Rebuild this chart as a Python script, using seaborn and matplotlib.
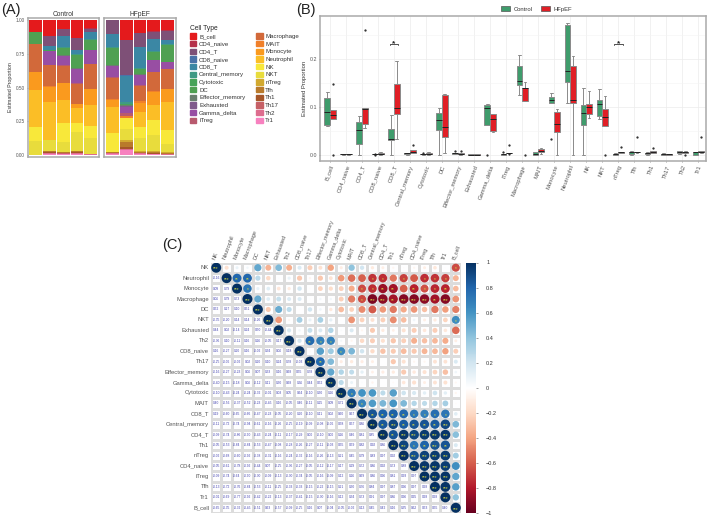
import numpy as np
import pandas as pd
import seaborn as sns
import matplotlib.pyplot as plt
from matplotlib.colors import LinearSegmentedColormap
from matplotlib.patches import Patch

# cell types, in legend order
cell_types = ['B_cell', 'CD4_naive', 'CD4_T', 'CD8_naive', 'CD8_T', 'Central_memory', 'Cytotoxic', 'DC',
              'Effector_memory', 'Exhausted', 'Gamma_delta', 'iTreg', 'Macrophage', 'MAIT', 'Monocyte',
              'Neutrophil', 'NK', 'NKT', 'nTreg', 'Tfh', 'Th1', 'Th17', 'Th2', 'Tr1']
cell_colors = ['#E41A1C', '#B5304A', '#7E5077', '#4A72A8', '#3B87A4', '#3F9A84', '#47A358', '#4FA052',
               '#6A7F6E', '#805A8C', '#984EA3', '#B85A6E', '#D2693A', '#F0802A', '#FA9A1E',
               '#FBBE26', '#F8E83A', '#E8DC3C', '#D2A92F', '#B97A2B', '#A65628', '#C66066', '#DD6C8E', '#F781BF']

# proportions for the five samples of each group
control = [
    [.090, .118, .063, .131, .060], [0, .001, .002, .001, .002], [0, .069, .051, .080, .022],
    [0, .001, .002, .001, .001], [0, .030, .083, .032, .053], [0, .002, .004, .003, .004],
    [0, .001, .004, .002, .001], [.086, 0, .051, .098, .072], [.001, .003, .007, .003, .002],
    [0, .001, .001, 0, .0005], [0, .103, .062, .105, .097], [0, .002, .006, .001, 0],
    [.208, .153, .125, .145, .185], [0, .006, .005, .001, 0], [.129, .108, .121, .032, .114],
    [.270, .274, .174, .108, .152], [.103, 0, .138, .061, .086], [.105, .081, .074, .136, .114],
    [0, .002, .001, .003, 0], [0, .006, .005, .007, .001], [0, .006, .004, .003, .001],
    [0, .002, .001, .004, 0], [.001, .008, .005, .007, .004], [0, .006, .005, .006, 0]]
hfpef = [
    [0, .147, .093, .083, .075], [0, .001, .002, .001, .002], [.097, .260, .095, .055, .064],
    [0, .006, .003, .002, .001], [.097, .195, .147, .084, .032], [.004, .020, .009, .006, .003],
    [0, .005, .003, .002, .001], [.124, .003, .036, .058, .126], [.001, .008, .003, .002, 0],
    [0, .002, .001, .0005, 0], [.084, .047, .074, .084, .049], [.002, .021, .003, .003, .003],
    [.152, 0, .112, .140, .138], [.008, .015, .012, .006, .001], [.047, 0, .065, .090, .095],
    [.185, 0, .107, .114, .206], [.133, .084, .076, .106, .099], [0, .078, .095, .122, .060],
    [.003, .016, .005, .006, .004], [.005, .037, .006, .005, .004], [.004, .015, .005, .007, .003],
    [.001, .002, .001, 0, 0], [.006, .007, .005, 0, .004], [.005, .038, .006, .008, .003]]

# correlation matrix, lower triangle
corr_names = ['NK', 'Neutrophil', 'Monocyte', 'Macrophage', 'DC', 'NKT', 'Exhausted', 'Th2', 'CD8_naive', 'Th17',
              'Effector_memory', 'Gamma_delta', 'Cytotoxic', 'MAIT', 'CD8_T', 'Central_memory', 'CD4_T', 'Th1',
              'nTreg', 'CD4_naive', 'iTreg', 'Tfh', 'Tr1', 'B_cell']
corr_lower = [
    [],
    [-.16],
    [.09, .79],
    [.06, .79, .73],
    [.52, .27, .10, .51],
    [-.35, -.20, .14, .14, -.26],
    [.44, .02, -.14, .24, .50, -.44],
    [-.36, .10, -.11, .16, .26, -.05, .17],
    [.16, -.27, .20, .16, -.02, .34, .06, .18],
    [-.25, -.06, -.02, .02, .20, .10, .24, .78, -.03],
    [-.16, -.27, -.23, .06, .07, .33, .16, .68, .55, .78],
    [-.40, -.15, -.18, .06, -.12, .11, .30, .68, .36, .44, .52],
    [-.10, -.43, -.24, -.24, -.32, -.01, .03, .05, .64, -.10, .30, .26],
    [.40, -.56, -.37, -.52, -.23, -.45, .16, -.05, .46, -.11, .25, .09, .71],
    [.19, -.60, -.65, -.66, -.47, -.23, -.05, -.20, .20, -.10, .11, .02, .60, .67],
    [-.11, -.72, -.74, -.94, -.61, -.16, -.26, -.25, -.19, -.09, -.08, -.06, .58, .57, .86],
    [-.09, -.74, -.86, -.90, -.43, -.24, -.11, -.17, -.29, 0, -.10, 0, .26, .46, .81, .85],
    [-.05, -.53, -.84, -.84, -.53, -.47, -.08, -.28, -.26, -.27, -.11, -.03, .55, .59, .82, .92, .86],
    [-.02, -.68, -.60, -.92, -.38, -.31, -.16, -.24, -.32, -.16, -.26, -.13, .21, .45, .79, .83, .97, .92],
    [-.05, -.61, -.78, -.92, -.44, .07, -.25, -.36, -.27, -.05, -.12, -.17, .17, .29, .72, .86, .92, .73, .88],
    [-.09, -.74, -.64, -.90, -.30, -.09, -.13, -.30, -.34, -.05, -.16, -.09, .12, .26, .69, .86, .96, .81, .93, .97],
    [-.13, -.72, -.76, -.84, -.53, -.11, -.25, -.33, -.33, -.15, -.22, -.15, .21, .30, .76, .84, .97, .87, .96, .97, .98],
    [-.01, -.69, -.77, -.92, -.42, -.22, -.13, -.37, -.41, -.15, -.30, -.16, .12, .34, .73, .91, .97, .86, .96, .95, .98, .98],
    [-.65, -.35, -.32, -.45, -.51, .63, -.57, -.09, -.25, .16, .07, -.04, -.05, -.02, .13, .45, .42, .16, .35, .62, .53, .55, .40]]
colorbar_ticks = [1, .8, .6, .4, .2, 0, -.2, -.4, -.6, -.8, -1]

sns.set_theme(style='white')
plt.rcParams['font.family'] = ['Liberation Sans', 'DejaVu Sans']
GREY = '#555555'

W, H = 709, 516
fig = plt.figure(figsize=(W / 100, H / 100), dpi=100)


def px_axes(x0, y0, x1, y1):
    # axes from pixel box, y counted from the top
    return fig.add_axes([x0 / W, 1 - y1 / H, (x1 - x0) / W, (y1 - y0) / H])


# (A) stacked bars
def stacked(ax, values, title):
    rows = []
    for name, vals in zip(cell_types, values):
        for i, v in enumerate(vals):
            rows.append({'sample': i, 'cell': name, 'value': v})
    d = pd.DataFrame(rows)
    sns.histplot(data=d, x='sample', hue='cell', weights='value', multiple='fill', discrete=True, shrink=.93,
                 hue_order=cell_types, palette=cell_colors, linewidth=0, alpha=1, legend=False, ax=ax)
    ax.set_xlim(-.6, 4.6)
    ax.set_ylim(-.015, 1.015)
    ax.set_xlabel('')
    ax.set_ylabel('')
    ax.set_xticks([])
    ax.set_title(title, fontsize=4.8, color='#333333', pad=1.5)
    for s in ax.spines.values():
        s.set_color('#aaaaaa')
        s.set_linewidth(1.1)


ax_a1 = px_axes(27.6, 18, 99, 157)
ax_a2 = px_axes(104, 18, 176, 157)
stacked(ax_a1, control, 'Control')
stacked(ax_a2, hfpef, 'HFpEF')
ax_a1.set_yticks([0, .25, .5, .75, 1])
ax_a1.set_yticklabels(['0.00', '0.25', '0.50', '0.75', '1.00'], fontsize=3.4, color=GREY)
ax_a1.tick_params(axis='y', length=1, width=.4, pad=1, left=True, color=GREY)
ax_a1.set_ylabel('Estimated Proportion', fontsize=3.8, color='#333333', labelpad=2)
ax_a2.set_yticks([])

handles = [Patch(color=c, label=n) for n, c in zip(cell_types, cell_colors)]
leg = fig.legend(handles=handles, ncol=2, loc='upper left', bbox_to_anchor=(190 / W, 1 - 24.5 / H), frameon=False,
                 title='Cell Type', fontsize=4.4, title_fontsize=4.8, labelspacing=.3, handlelength=1.05,
                 handleheight=1.0, handletextpad=.45, columnspacing=1.75, borderpad=0, borderaxespad=0,
                 labelcolor='#333333')
leg._legend_box.align = 'left'

# (B) boxplots
long_rows = []
for group, values in [('Control', control), ('HFpEF', hfpef)]:
    for name, vals in zip(cell_types, values):
        for v in vals:
            long_rows.append({'cell': name, 'group': group, 'value': v})
df_box = pd.DataFrame(long_rows)

ax_b = px_axes(320, 15.7, 705.7, 161)
sns.boxplot(data=df_box, x='cell', y='value', hue='group', order=cell_types, palette=['#3F9C6C', '#E01F26'],
            width=.7, gap=0, saturation=1, linewidth=.7, linecolor='#8a8a8a', fliersize=.6,
            flierprops={'marker': 'o', 'markerfacecolor': '#222222', 'markeredgecolor': '#222222'},
            medianprops={'color': '#222222', 'linewidth': .7}, ax=ax_b)
ax_b.set_xlim(-.62, 23.46)
ax_b.set_ylim(-.013, .2896)
ax_b.set_yticks([0, .1, .2])
ax_b.set_yticks([.05, .15, .25], minor=True)
ax_b.set_yticklabels(['0.0', '0.1', '0.2'], fontsize=3.8, color=GREY)
ax_b.grid(True, which='major', color='#ececec', linewidth=.5)
ax_b.grid(True, which='minor', axis='y', color='#f3f3f3', linewidth=.4)
ax_b.set_axisbelow(True)
ax_b.tick_params(axis='y', which='major', length=1, width=.4, pad=1, left=True, color=GREY)
ax_b.tick_params(axis='y', which='minor', length=0)
ax_b.tick_params(axis='x', length=1, width=.4, pad=1.5, bottom=True, color=GREY)
ax_b.set_xticks(range(len(cell_types)))
ax_b.set_xticklabels(cell_types, rotation=70, ha='right', rotation_mode='anchor', fontsize=4.2, color=GREY)
ax_b.set_xlabel('')
ax_b.set_ylabel('Estimated Proportion', fontsize=4.2, color='#333333', labelpad=2)
for s in ax_b.spines.values():
    s.set_color('#aaaaaa')
    s.set_linewidth(1.1)
for name in ['CD8_T', 'nTreg']:
    i = cell_types.index(name)
    ax_b.plot([i - .27, i - .27, i + .27, i + .27], [.2285, .2315, .2315, .2285], color='#333333', lw=.6)
    ax_b.text(i, .2305, '*', ha='center', va='center', fontsize=6, fontweight='bold', color='#222222')
ax_b.legend(handles=[Patch(facecolor='#3F9C6C', edgecolor='#555555', lw=.5, label='Control'),
                     Patch(facecolor='#E01F26', edgecolor='#555555', lw=.5, label='HFpEF')],
            ncol=2, loc='lower left', bbox_to_anchor=(177 / 385.7, 1.0), frameon=False, fontsize=4.2,
            handlelength=1.6, handleheight=.9, columnspacing=1.4, handletextpad=.6, borderpad=.2,
            labelcolor='#333333')

# (C) correlation plot
n = len(corr_names)
corr = np.eye(n)
for i, row in enumerate(corr_lower):
    for j, v in enumerate(row):
        corr[i, j] = v
        corr[j, i] = v

cmap = LinearSegmentedColormap.from_list('corr', ['#67001F', '#B2182B', '#D6604D', '#F4A582', '#FDDBC7', '#FFFFFF',
                                                  '#D1E5F0', '#92C5DE', '#4393C3', '#2166AC', '#053061'])
ax_c = px_axes(211, 262.5, 461, 513)
ax_cb = px_axes(465.7, 262.5, 475.7, 513)
sns.heatmap(np.zeros((n, n)), vmin=-1, vmax=1, cmap=cmap, linewidths=.8, linecolor='#dcdcdc', square=False,
            cbar_ax=ax_cb, xticklabels=corr_names, yticklabels=corr_names, ax=ax_c)

# circles in the upper triangle and on the diagonal
circ = []
for i in range(n):
    for j in range(i, n):
        circ.append({'x': j + .5, 'y': i + .5, 'r': corr[i, j], 'size': abs(corr[i, j])})
circ = pd.DataFrame(circ)
sns.scatterplot(data=circ, x='x', y='y', hue='r', hue_norm=(-1, 1), palette=cmap, size='size', size_norm=(0, 1),
                sizes=(0, 52), linewidth=0, legend=False, ax=ax_c)
for i in range(n):
    for j in range(i, n):
        r = abs(corr[i, j])
        stars = '***' if r >= .87 else '**' if r >= .77 else '*' if r >= .63 else ''
        if stars:
            ax_c.text(j + .5, i + .62, stars, ha='center', va='center', fontsize=3.4, color='#D8DC40')
    for j in range(i):
        ax_c.text(j + .5, i + .5, f'{corr[i, j]:.2f}', ha='center', va='center', fontsize=2.3, color='#4444B0')

ax_c.set_xlim(0, n)
ax_c.set_ylim(n, 0)
ax_c.set_xlabel('')
ax_c.set_ylabel('')
ax_c.xaxis.tick_top()
ax_c.set_xticks(np.arange(n) + .5)
ax_c.set_xticklabels(corr_names, rotation=70, ha='left', rotation_mode='anchor', fontsize=4, color=GREY)
ax_c.set_yticks(np.arange(n) + .5)
ax_c.set_yticklabels(corr_names, rotation=0, fontsize=4.2, color=GREY)
ax_c.tick_params(length=0, pad=1.5)
ax_cb.set_yticks(colorbar_ticks)
ax_cb.set_yticklabels([f'{t:g}'.replace('-', '\u2212') for t in colorbar_ticks], fontsize=4, color='#333333')
ax_cb.tick_params(axis='y', length=1.5, width=.4, pad=6, right=True, color=GREY)

# panel letters
for label, x, y in [('(A)', 1, 10), ('(B)', 296, 10), ('(C)', 162, 245)]:
    fig.text(x / W, 1 - y / H, label, fontsize=10.5, va='center', ha='left', color='#222222')

fig.savefig('out.png', dpi=100)
